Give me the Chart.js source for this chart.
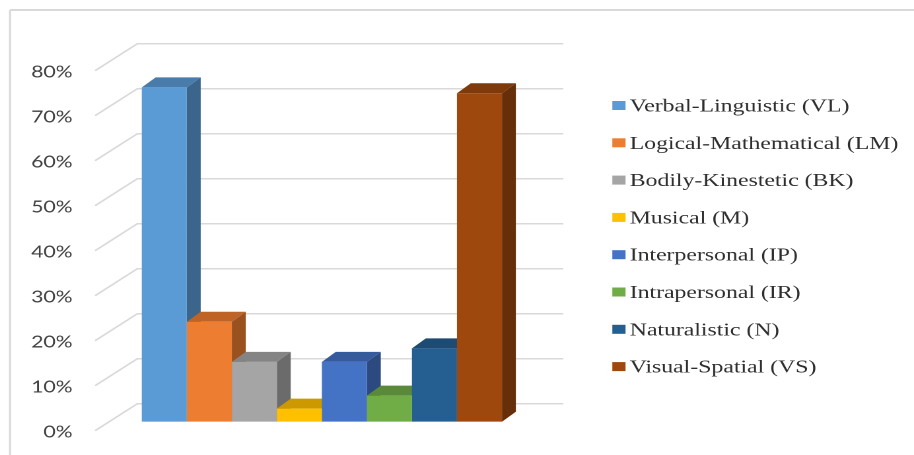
<!DOCTYPE html>
<html>
<head>
<meta charset="utf-8">
<script src="https://cdn.jsdelivr.net/npm/chart.js@4.4.1/dist/chart.umd.min.js"></script>
<style>
  html, body { margin: 0; padding: 0; background: #fff; overflow: hidden; }
  #stage { width: 914px; height: 455px; overflow: hidden; }
  /* the source picture is stretched sideways, so the whole chart is too */
  #wrap { position: relative; width: 692px; height: 455px; transform: scaleX(1.3208); transform-origin: 0 0; }
</style>
</head>
<body>
<div id="stage"><div id="wrap"><canvas id="miChart"></canvas></div></div>
<script>
// --- DATA ---
const seriesNames = [
    'Verbal-Linguistic (VL)',
    'Logical-Mathematical (LM)',
    'Bodily-Kinestetic (BK)',
    'Musical (M)',
    'Interpersonal (IP)',
    'Intrapersonal (IR)',
    'Naturalistic (N)',
    'Visual-Spatial (VS)'
];
const seriesValues = [74.3, 22.2, 13.3, 2.9, 13.3, 5.8, 16.3, 73.0];
const seriesColors = ['#5B9BD5', '#ED7D31', '#A5A5A5', '#FFC000', '#4472C4', '#70AD47', '#255E91', '#9E480E'];
const yMin = 0, yMax = 80, yStep = 10;

// --- 3D look ---
const DEPTH_X = 10.5, DEPTH_Y = -10;
function shade(hex, f) {
    const n = parseInt(hex.slice(1), 16);
    const r = Math.round(((n >> 16) & 255) * f), g = Math.round(((n >> 8) & 255) * f), b = Math.round((n & 255) * f);
    return `rgb(${r},${g},${b})`;
}

const framePlugin = {
    id: 'frame',
    beforeDraw(chart) {
        const ctx = chart.ctx;
        ctx.save();
        ctx.fillStyle = '#fff';
        ctx.fillRect(0, 0, chart.width, chart.height);
        ctx.strokeStyle = '#d9d9d9';
        ctx.lineWidth = 2;
        ctx.beginPath(); ctx.moveTo(7.6, 10); ctx.lineTo(chart.width, 10); ctx.stroke();
        ctx.lineWidth = 1.5;
        ctx.beginPath(); ctx.moveTo(7.6, 10); ctx.lineTo(7.6, chart.height); ctx.stroke();
        ctx.restore();
    }
};

const wallPlugin = {
    id: 'wall3d',
    beforeDatasetsDraw(chart) {
        const { ctx, chartArea, scales } = chart;
        const backL = chartArea.left + 38, backR = chartArea.right + 5, frontL = chartArea.left + 6;
        ctx.save();
        ctx.strokeStyle = '#d9d9d9';
        ctx.lineWidth = 1.5;
        for (let v = yMin; v <= yMax; v += yStep) {
            const yb = scales.y.getPixelForValue(v) - 18;
            ctx.beginPath();
            ctx.moveTo(frontL, yb + 27);
            ctx.lineTo(backL, yb);
            ctx.lineTo(backR, yb);
            ctx.stroke();
        }
        // side and top faces first, the fronts are drawn over them by Chart.js
        chart.data.datasets.forEach((ds, i) => {
            const bar = chart.getDatasetMeta(i).data[0];
            const { x, y, base, width } = bar.getProps(['x', 'y', 'base', 'width'], true);
            const l = x - width / 2, r = x + width / 2;
            ctx.fillStyle = shade(seriesColors[i], 0.65);
            ctx.beginPath();
            ctx.moveTo(r, y); ctx.lineTo(r + DEPTH_X, y + DEPTH_Y);
            ctx.lineTo(r + DEPTH_X, base + DEPTH_Y); ctx.lineTo(r, base);
            ctx.closePath(); ctx.fill();
            ctx.fillStyle = shade(seriesColors[i], 0.8);
            ctx.beginPath();
            ctx.moveTo(l, y); ctx.lineTo(r, y);
            ctx.lineTo(r + DEPTH_X, y + DEPTH_Y); ctx.lineTo(l + DEPTH_X, y + DEPTH_Y);
            ctx.closePath(); ctx.fill();
        });
        ctx.restore();
    }
};

const sideLegend = {
    id: 'sideLegend',
    afterDraw(chart) {
        const ctx = chart.ctx;
        ctx.save();
        ctx.font = '18px "Liberation Serif", "Times New Roman", serif';
        ctx.textBaseline = 'alphabetic';
        chart.data.datasets.forEach((ds, i) => {
            const cy = 105.5 + i * 37.3;
            ctx.fillStyle = ds.backgroundColor;
            ctx.fillRect(463.6, cy - 4.5, 10, 9);
            ctx.fillStyle = '#2e2e2e';
            ctx.fillText(ds.label, 476.7, cy + 6);
        });
        ctx.restore();
    }
};

const ctx = document.getElementById('miChart').getContext('2d');
const miChart = new Chart(ctx, {
    type: 'bar',
    data: {
        labels: [''],
        datasets: seriesNames.map((name, i) => ({
            label: name,
            data: [seriesValues[i]],
            backgroundColor: seriesColors[i],
            borderWidth: 0,
            barPercentage: 1,
            categoryPercentage: 0.7673
        }))
    },
    options: {
        responsive: true, maintainAspectRatio: false, animation: false,
        devicePixelRatio: 2,
        layout: { padding: { top: 61.7, bottom: 33.3, left: 0, right: 270.6 } },
        plugins: { legend: { display: false }, tooltip: { enabled: false } },
        scales: {
            x: { display: false },
            y: {
                min: yMin, max: yMax,
                grid: { display: false, drawTicks: false },
                border: { display: false },
                ticks: {
                    stepSize: yStep, padding: 11, labelOffset: 10.5,
                    color: '#404040', font: { family: 'Lato', size: 16 },
                    callback: v => v + '%'
                },
                afterFit(scale) { scale.width = 66; }
            }
        }
    },
    plugins: [framePlugin, wallPlugin, sideLegend]
});
</script>
</body>
</html>
